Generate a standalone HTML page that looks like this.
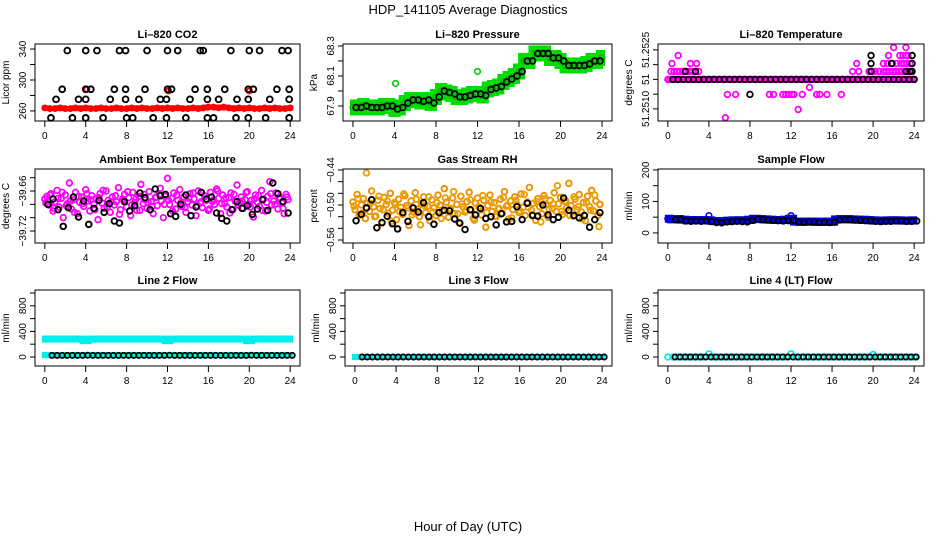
<!DOCTYPE html>
<html><head><meta charset="utf-8"><style>
html,body{margin:0;padding:0;background:#fff;}
svg{display:block;font-family:"Liberation Sans",sans-serif;}
</style></head><body>
<svg id="c" width="936" height="540" viewBox="0 0 936 540">
<text x="468" y="14" text-anchor="middle" font-size="13">HDP_141105  Average Diagnostics</text>
<text x="468" y="531" text-anchor="middle" font-size="13">Hour of Day (UTC)</text>
</svg>
<script>
// ---- data ----
const xTicks = [0,4,8,12,16,20,24];
// CO2
const co2Red = [264,263,263,264,263,263,264,263,264,263,263,264,263,263,264,263,263,264,263,264,263,263,264,263,264,263,264,263,263,264,263,264,265,265,264,265,264,263,264,263,264,263,263,264,263,264,263,263,264];
const co2TopHours = [2.2,4,5.1,7.3,7.9,10,12,13,15.2,15.5,18.2,20,21,23.2,23.8];
const co2UpHours = [1.7,4,4.5,6.8,7.9,9.8,12,12.4,14.7,15.9,17.6,19.9,20.4,22.7,23.9];
const co2MidHours = [1.1,3.3,4,6.4,7.9,9.2,11.3,11.9,14.2,15.9,17.0,18.8,19.9,22,23.9];
const co2LowHours = [0.6,2.7,4,5.7,8,8.6,10.6,11.9,13.8,15.9,16.5,18.7,19.9,21.6,23.9];
const co2Levels = [338,288,275,251];
// Pressure (every 0.5 h)
const pres = [67.89,67.89,67.90,67.89,67.89,67.89,67.90,67.90,67.88,67.89,67.92,67.94,67.94,67.93,67.94,67.92,67.96,68.00,67.99,67.98,67.96,67.96,67.97,67.98,67.98,67.97,68.01,68.02,68.03,68.06,68.08,68.10,68.13,68.20,68.20,68.25,68.25,68.25,68.22,68.22,68.20,68.17,68.17,68.17,68.17,68.18,68.20,68.20,68.22];
const presOutHours = [4.1,12,19.8];
const presOutVals = [68.05,68.13,68.25];
// Li-820 temperature
const tempBandLevel = 51.2515;
const tempMagHours = [0.3,0.6,0.9,1.2,1.5,1.8,2.1,2.4,2.7,3.0,0.4,2.2,2.8,1.0,5.6,5.8,6.6,9.9,10.3,11.2,11.5,11.8,12.1,12.3,13.1,13.8,12.7,14.5,14.8,15.5,16.9,18.0,18.4,18.6,19.6,19.9,20.2,20.6,21.0,21.3,21.6,21.9,22.2,22.5,22.8,23.1,23.4,23.7,21.0,21.4,21.9,22.3,22.7,23.0,23.3,23.6,21.5,22.6,22.9,23.2,23.4,22.0,23.2];
const tempMagVals = [51.25177,51.25177,51.25177,51.25177,51.25177,51.25177,51.25177,51.25177,51.25177,51.25177,51.25204,51.25204,51.25204,51.25231,51.2502,51.25099,51.25099,51.25099,51.25099,51.25099,51.25099,51.25099,51.25099,51.25099,51.25099,51.25123,51.25048,51.25099,51.25099,51.25099,51.25099,51.25177,51.25204,51.25177,51.25177,51.25177,51.25177,51.25177,51.25177,51.25177,51.25177,51.25177,51.25177,51.25177,51.25177,51.25177,51.25177,51.25177,51.25204,51.25204,51.25204,51.25204,51.25204,51.25204,51.25204,51.25204,51.25231,51.25231,51.25231,51.25231,51.25231,51.25258,51.25258];
const tempBlkHours = [1.7,2.7,8,19.8,19.8,19.8,21.8,23.2,23.8,23.8,23.8,23.6];
const tempBlkVals = [51.25177,51.25177,51.25099,51.25231,51.25204,51.25177,51.25204,51.25177,51.25231,51.25204,51.25177,51.25177];
// Ambient box temperature (0.2 h step)
const ambMag = [-39.672,-39.668,-39.681,-39.664,-39.690,-39.676,-39.659,-39.684,-39.671,-39.700,-39.666,-39.679,-39.648,-39.687,-39.673,-39.662,-39.694,-39.677,-39.669,-39.683,
-39.658,-39.675,-39.690,-39.667,-39.680,-39.671,-39.703,-39.664,-39.678,-39.686,-39.660,-39.674,-39.692,-39.669,-39.681,-39.676,-39.655,-39.688,-39.672,-39.665,
-39.684,-39.670,-39.697,-39.662,-39.677,-39.689,-39.668,-39.650,-39.679,-39.673,-39.686,-39.661,-39.676,-39.694,-39.670,-39.682,-39.665,-39.675,-39.700,-39.668,
-39.641,-39.680,-39.671,-39.663,-39.687,-39.674,-39.658,-39.683,-39.669,-39.692,-39.676,-39.664,-39.681,-39.672,-39.697,-39.660,-39.678,-39.685,-39.667,-39.674,
-39.689,-39.662,-39.676,-39.680,-39.657,-39.671,-39.694,-39.666,-39.679,-39.684,-39.670,-39.663,-39.688,-39.675,-39.651,-39.678,-39.669,-39.686,-39.673,-39.661,
-39.680,-39.674,-39.699,-39.666,-39.677,-39.683,-39.659,-39.672,-39.690,-39.668,-39.646,-39.681,-39.675,-39.663,-39.687,-39.670,-39.678,-39.694,-39.665,-39.673];
const ambMag2 = [-39.678,-39.666,-39.686,-39.671,-39.662,-39.682,-39.675,-39.692,-39.668,-39.679,-39.664,-39.673,-39.688,-39.670,-39.659,-39.684,-39.676,-39.667,-39.695,-39.674,
-39.661,-39.681,-39.672,-39.689,-39.665,-39.677,-39.683,-39.669,-39.656,-39.680,-39.674,-39.690,-39.666,-39.678,-39.685,-39.671,-39.663,-39.682,-39.676,-39.668,
-39.687,-39.673,-39.660,-39.679,-39.670,-39.693,-39.665,-39.681,-39.675,-39.662,-39.684,-39.672,-39.667,-39.689,-39.677,-39.664,-39.680,-39.671,-39.686,-39.669];
const ambBlk = [-39.680,-39.672,-39.688,-39.713,-39.685,-39.669,-39.699,-39.675,-39.710,-39.686,-39.674,-39.692,-39.679,-39.705,-39.708,-39.676,-39.690,-39.682,-39.663,-39.670,-39.688,-39.657,-39.667,-39.665,-39.694,-39.698,-39.680,-39.666,-39.697,-39.684,-39.662,-39.672,-39.669,-39.693,-39.701,-39.705,-39.688,-39.676,-39.686,-39.682,-39.695,-39.687,-39.673,-39.689,-39.648,-39.664,-39.676,-39.693];
// Gas stream RH
const rh = [-0.495,-0.508,-0.482,-0.517,-0.500,-0.489,-0.523,-0.497,-0.511,-0.476,-0.503,-0.519,-0.492,-0.506,-0.531,-0.487,-0.499,-0.514,-0.480,-0.509,
-0.496,-0.525,-0.490,-0.504,-0.516,-0.484,-0.501,-0.535,-0.493,-0.512,-0.479,-0.507,-0.520,-0.498,-0.486,-0.513,-0.502,-0.527,-0.491,-0.505,
-0.518,-0.483,-0.500,-0.510,-0.472,-0.495,-0.521,-0.506,-0.488,-0.515,-0.499,-0.530,-0.485,-0.503,-0.512,-0.494,-0.478,-0.509,-0.523,-0.497,
-0.488,-0.505,-0.517,-0.492,-0.538,-0.501,-0.483,-0.511,-0.496,-0.520,-0.507,-0.490,-0.514,-0.477,-0.502,-0.524,-0.493,-0.508,-0.486,-0.499,
-0.513,-0.481,-0.504,-0.518,-0.495,-0.470,-0.509,-0.497,-0.526,-0.489,-0.503,-0.515,-0.484,-0.500,-0.521,-0.492,-0.506,-0.479,-0.511,-0.498,
-0.487,-0.516,-0.494,-0.505,-0.463,-0.501,-0.519,-0.490,-0.508,-0.482,-0.512,-0.496,-0.527,-0.485,-0.503,-0.475,-0.510,-0.493,-0.518,-0.499];
const rh2 = [-0.502,-0.489,-0.514,-0.445,-0.497,-0.520,-0.485,-0.508,-0.493,-0.528,-0.499,-0.511,-0.481,-0.505,-0.517,-0.490,-0.534,-0.501,-0.486,-0.512,
-0.496,-0.523,-0.488,-0.507,-0.477,-0.515,-0.498,-0.509,-0.491,-0.526,-0.503,-0.484,-0.513,-0.495,-0.519,-0.506,-0.487,-0.500,-0.522,-0.492,
-0.510,-0.482,-0.504,-0.516,-0.494,-0.529,-0.489,-0.507,-0.498,-0.467,-0.511,-0.493,-0.518,-0.486,-0.503,-0.524,-0.496,-0.509,-0.483,-0.537];
const rhBlk = [-0.527,-0.516,-0.505,-0.491,-0.539,-0.530,-0.519,-0.532,-0.541,-0.513,-0.528,-0.505,-0.512,-0.496,-0.520,-0.533,-0.513,-0.509,-0.510,-0.524,-0.531,-0.542,-0.508,-0.517,-0.506,-0.523,-0.520,-0.534,-0.515,-0.529,-0.528,-0.503,-0.525,-0.497,-0.518,-0.519,-0.500,-0.517,-0.525,-0.521,-0.488,-0.509,-0.518,-0.522,-0.518,-0.538,-0.525,-0.513];
// Sample flow (0.5 h)
const flowS = [45,43,44,42,40,41,40,41,40,38,37,38,39,40,40,40,42,45,44,43,42,41,41,42,45,36,35,36,36,35,36,35,36,43,44,44,43,42,42,41,40,39,39,40,40,40,39,39,40];
const flowSBlk = [44,42,43,38,37,38,37,38,36,33,32,35,36,37,36,35,40,44,42,41,40,39,38,39,40,35,34,35,35,34,34,33,34,41,42,42,41,40,39,38,37,36,37,37,38,38,37,37,38];
// Line flows (0.5 h)
const line2Cyan = [280,280,280,280,280,280,280,280,255,280,280,280,280,280,280,280,280,280,280,280,280,280,280,280,255,280,280,280,280,280,280,280,280,280,280,280,280,280,280,280,255,280,280,280,280,280,280,280,280];
const line2Low = [30,30,30,30,30,30,30,30,30,30,30,30,30,30,30,30,30,30,30,30,30,30,30,30,30,30,30,30,30,30,30,30,30,30,30,30,30,30,30,30,30,30,30,30,30,30,30,30,30];
const line2Blk = [25,25,25,25,25,25,25,25,28,25,25,25,25,25,25,25,25,25,25,25,25,25,25,25,28,25,25,25,25,25,25,25,25,25,25,25,25,25,25,25,28,25,25,25,25,25,25,25,25];
const line3 = [0,0,0,0,0,0,0,0,0,0,0,0,0,0,0,0,0,0,0,0,0,0,0,0,0,0,0,0,0,0,0,0,0,0,0,0,0,0,0,0,0,0,0,0,0,0,0,0,0];
const line4 = [0,0,0,0,0,0,0,0,50,0,0,0,0,0,0,0,0,0,0,0,0,0,0,0,50,0,0,0,0,0,0,0,0,0,0,0,0,0,0,0,40,0,0,0,0,0,0,0,0];

// ---- drawing ----
const svg = document.getElementById('c');
const NS = 'http://www.w3.org/2000/svg';
function mk(tag, attrs, parent){
  const e = document.createElementNS(NS, tag);
  for (const k in attrs) e.setAttribute(k, attrs[k]);
  (parent||svg).appendChild(e);
  return e;
}
function makePanel(key, title, ytitle, l, r, t, b, ymin, ymax, yTicks, yLabels){
  const g = mk('g', {});
  
  
  const sx = h => l + (h + 0.96) / 25.92 * (r - l);
  const sy = v => b - (v - ymin) / (ymax - ymin) * (b - t);
  const marks = mk('g', {}, g);
  
  
  const box = mk('rect', {x:l, y:t, width:r-l, height:b-t, fill:'none', stroke:'#000', 'stroke-width':1}, g);
  
  
  const tt = mk('text', {x:(l+r)/2, y:t-6, 'text-anchor':'middle', 'font-size':11, 'font-weight':'bold'}, g);
  tt.textContent = title;
  
  
  const yt = mk('text', {x:0, y:0, 'text-anchor':'middle', 'font-size':10, transform:'translate(' + (l-26) + ',' + ((t+b)/2) + ') rotate(-90)'}, g);
  yt.textContent = ytitle;
  
  
  xTicks.forEach(h => {
    const x = sx(h);
    const tk = mk('line', {x1:x, x2:x, y1:b, y2:b+6, stroke:'#000'}, g);
    
    
    const lb = mk('text', {x:x, y:b+18, 'text-anchor':'middle', 'font-size':10}, g);
    lb.textContent = h;
    
    
  });
  yTicks.forEach((v, i) => {
    const y = sy(v);
    const tk = mk('line', {x1:l-5, x2:l, y1:y, y2:y, stroke:'#000'}, g);
    
    
    if (yLabels[i]) {
      const lb = mk('text', {x:0, y:0, 'text-anchor':'middle', 'font-size':10, transform:'translate(' + (l-9) + ',' + y + ') rotate(-90)'}, g);
      lb.textContent = yLabels[i];
      
      
    }
  });
  return {sx, sy, marks, key};
}
function pts(P, hours, vals, color, name, r, sw){
  hours.forEach((h, i) => {
    const c = mk('circle', {cx:P.sx(h), cy:P.sy(vals[i]), r:r||2.8, fill:'none', stroke:color, 'stroke-width':sw||1.7}, P.marks);
    
    
  });
}
function band(P, step, vals, color, hpx, name){
  vals.forEach((v, i) => {
    const h = i * step;
    const x1 = P.sx(Math.max(0, h - step/2 - 0.05)), x2 = P.sx(Math.min(24, h + step/2 + 0.05));
    const rc = mk('rect', {x:x1-3, y:P.sy(v)-hpx/2, width:x2-x1+6, height:hpx, fill:color}, P.marks);
    
    
  });
}
const idxHours = (arr, step, off) => arr.map((_, i) => i * step + (off||0));

// Panel 1: CO2
const P1 = makePanel('co2', 'Li–820 CO2', 'Licor ppm', 35, 300, 44, 121, 247, 346.5, [260,280,300,320,340], ['260','','300','','340']);
band(P1, 0.5, co2Red, '#ff0000', 5, 'co2-red-band');
pts(P1, idxHours(co2Red, 0.5), co2Red, '#ff0000', 'co2-red-point', 2.6, 1.6);
pts(P1, [4.1,12.1,20], [288,286,286], '#ff0000', 'co2-red-outlier', 2.6, 2);
[co2TopHours, co2UpHours, co2MidHours, co2LowHours].forEach((hs, k) => {
  pts(P1, hs, hs.map(() => co2Levels[k]), '#000', 'co2-black-point', 2.9, 1.9);
});

// Panel 2: Pressure
const P2 = makePanel('pressure', 'Li–820 Pressure', 'kPa', 343, 612, 44, 121, 67.8, 68.313, [67.9,68.0,68.1,68.2,68.3], ['67.9','','68.1','','68.3']);
band(P2, 0.5, pres, '#00dd00', 16, 'pressure-green-band');
pts(P2, idxHours(pres, 0.5), pres, '#00bb00', 'pressure-green-point', 2.8, 1.6);
pts(P2, presOutHours, presOutVals, '#00cc00', 'pressure-outlier', 2.8, 1.6);
pts(P2, idxHours(pres, 0.5, 0.3).slice(0, 48), pres.slice(0, 48), '#000', 'pressure-black-point', 2.9, 1.8);

// Panel 3: Temperature
const P3 = makePanel('li820-temp', 'Li–820 Temperature', 'degrees C', 658, 924, 44, 121, 51.25009, 51.2527, [51.2505,51.2510,51.2515,51.2520,51.2525], ['51.2510','','51','','51.2525']);
const bandH = []; for (let i = 0; i <= 120; i++) bandH.push(i * 0.2);
pts(P3, bandH, bandH.map(() => tempBandLevel), '#ff00ff', 'temp-magenta-band-point', 2.8, 1.8);
pts(P3, tempMagHours, tempMagVals, '#ff00ff', 'temp-magenta-point', 2.8, 1.8);
const blkBandH = []; for (let i = 0; i < 48; i++) blkBandH.push(0.5 + i * 0.5);
pts(P3, blkBandH, blkBandH.map(() => tempBandLevel), '#000', 'temp-black-band-point', 2.8, 1.8);
pts(P3, tempBlkHours, tempBlkVals, '#000', 'temp-black-point', 2.8, 1.8);

// Panel 4: Ambient
const P4 = makePanel('ambient-temp', 'Ambient Box Temperature', 'degrees C', 35, 300, 169, 243, -39.738, -39.627, [-39.72,-39.70,-39.68,-39.66,-39.64], ['−39.72','','','−39.66','']);
pts(P4, idxHours(ambMag, 0.2), ambMag, '#ff00ff', 'ambient-magenta-point', 2.8, 1.8);
pts(P4, idxHours(ambMag2, 0.4, 0.1), ambMag2, '#ff00ff', 'ambient-magenta-point', 2.8, 1.8);
pts(P4, idxHours(ambBlk, 0.5, 0.3), ambBlk, '#000', 'ambient-black-point', 2.8, 1.9);

// Panel 5: RH
const P5 = makePanel('gas-rh', 'Gas Stream RH', 'percent', 343, 612, 169, 243, -0.5651, -0.4383, [-0.56,-0.54,-0.52,-0.50,-0.48,-0.46,-0.44], ['−0.56','','','−0.50','','','−0.44']);
pts(P5, idxHours(rh, 0.2), rh, '#f09000', 'rh-orange-point', 2.8, 1.9);
pts(P5, idxHours(rh2, 0.4, 0.1), rh2, '#e8a000', 'rh-orange-point', 2.8, 1.9);
pts(P5, idxHours(rhBlk, 0.5, 0.3), rhBlk, '#000', 'rh-black-point', 2.8, 1.9);

// Panel 6: Sample flow
const P6 = makePanel('sample-flow', 'Sample Flow', 'ml/min', 658, 924, 169, 243, -32, 203, [0,50,100,150,200], ['0','','100','','200']);
band(P6, 0.5, flowS, '#0000dd', 8, 'sample-flow-blue-band');
pts(P6, idxHours(flowS, 0.5), flowS, '#0000ee', 'sample-flow-blue-point', 2.8, 1.6);
pts(P6, [4,12], [55,55], '#0000ee', 'sample-flow-outlier', 2.8, 1.6);
pts(P6, idxHours(flowSBlk, 0.5, 0.25).slice(1), flowSBlk.slice(1), '#000', 'sample-flow-black-point', 2.8, 1.8);

// Row 3
const P7 = makePanel('line2-flow', 'Line 2 Flow', 'ml/min', 35, 300, 290, 366, -141, 1047, [0,200,400,600,800,1000], ['0','','400','','800','']);
band(P7, 0.5, line2Cyan, '#00eeee', 7, 'line2-cyan-band');
band(P7, 0.5, line2Low, '#00eeee', 6, 'line2-cyan-low-band');
pts(P7, idxHours(line2Blk, 0.5, 0.2).slice(1), line2Blk.slice(1), '#000', 'line2-black-point', 2.6, 1.8);

const P8 = makePanel('line3-flow', 'Line 3 Flow', 'ml/min', 345, 612, 290, 366, -141, 1047, [0,200,400,600,800,1000], ['0','','400','','800','']);
band(P8, 0.5, line3, '#00eeee', 6, 'line3-cyan-band');
pts(P8, idxHours(line3, 0.5, 0.2).slice(1), line3.slice(1), '#000', 'line3-black-point', 2.6, 1.8);

const P9 = makePanel('line4-flow', 'Line 4 (LT) Flow', 'ml/min', 658, 924, 290, 366, -141, 1047, [0,200,400,600,800,1000], ['0','','400','','800','']);
pts(P9, idxHours(line4, 0.5), line4, '#00eeee', 'line4-cyan-point', 2.8, 1.8);
pts(P9, idxHours(line3, 0.5, 0.2).slice(1), line3.slice(1), '#000', 'line4-black-point', 2.6, 1.8);
</script>
</body></html>
